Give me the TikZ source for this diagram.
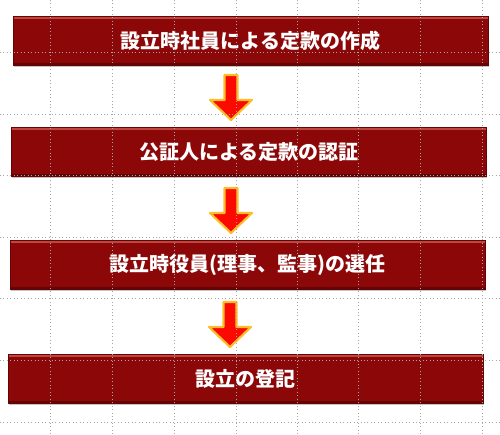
\documentclass[tikz,border=0pt]{standalone}
\usepackage{fontspec}
\newfontfamily\jpfont{Noto Sans CJK JP}
\usetikzlibrary{shadows}
\definecolor{boxred}{RGB}{140,8,8}
\definecolor{boxtop}{RGB}{190,70,64}
\definecolor{boxlow}{RGB}{100,4,4}
\definecolor{arrowred}{RGB}{250,10,0}
\definecolor{arrowrim}{RGB}{252,190,40}
\begin{document}
\begin{tikzpicture}[x=.75pt,y=-.75pt,>=stealth,
    stepbox/.style={rectangle,minimum width=356.25pt,minimum height=36.75pt,
      fill=boxred,draw=boxlow,
      path picture={
        \fill [boxtop] (path picture bounding box.north west) rectangle ([yshift=-2.2pt]path picture bounding box.north east);
        \fill [boxlow] (path picture bounding box.south west) rectangle ([yshift=1.2pt]path picture bounding box.south east);},
      drop shadow={shadow xshift=.6pt,shadow yshift=-1.5pt,fill=black!45},
      text=white,font=\jpfont\bfseries\fontsize{15}{18}\selectfont},
    downarrow/.style={fill=arrowred,draw=arrowrim,line width=1.6pt,line join=round},
    gridline/.style={gray!70,dotted,line width=.6pt}]
  \useasboundingbox (0,0) rectangle (500,435);
  \node [stepbox] (s1) at (250.5,40.5) {設立時社員による定款の作成};
  \node [stepbox] (s2) at (249,151.5) {公証人による定款の認証};
  \node [stepbox] (s3) at (247.5,264.5) {設立時役員(理事、監事)の選任};
  \node [stepbox] (s4) at (245.5,378.5) {設立の登記};
  \def\arrowpath{-- ++(6.5,0) -- ++(0,25) -- ++(14.5,0) -- ++(-21,20) -- ++(-21,-20) -- ++(14.5,0) -- ++(0,-25) --cycle}
  \coordinate (a1) at (231,75);
  \coordinate (a2) at (231,188);
  \coordinate (a3) at (230,302);
  \draw [downarrow] (a1) \arrowpath;
  \draw [downarrow] (a2) \arrowpath;
  \draw [downarrow] (a3) \arrowpath;
  % grid
  \foreach \gx in {50,112,174,236,297,358,420,482}
    \draw [gridline] (\gx,0) -- (\gx,435);
  \foreach \gy in {52,114,175,237,298,360,422}
    \draw [gridline] (0,\gy) -- (500,\gy);
\end{tikzpicture}
\end{document}
